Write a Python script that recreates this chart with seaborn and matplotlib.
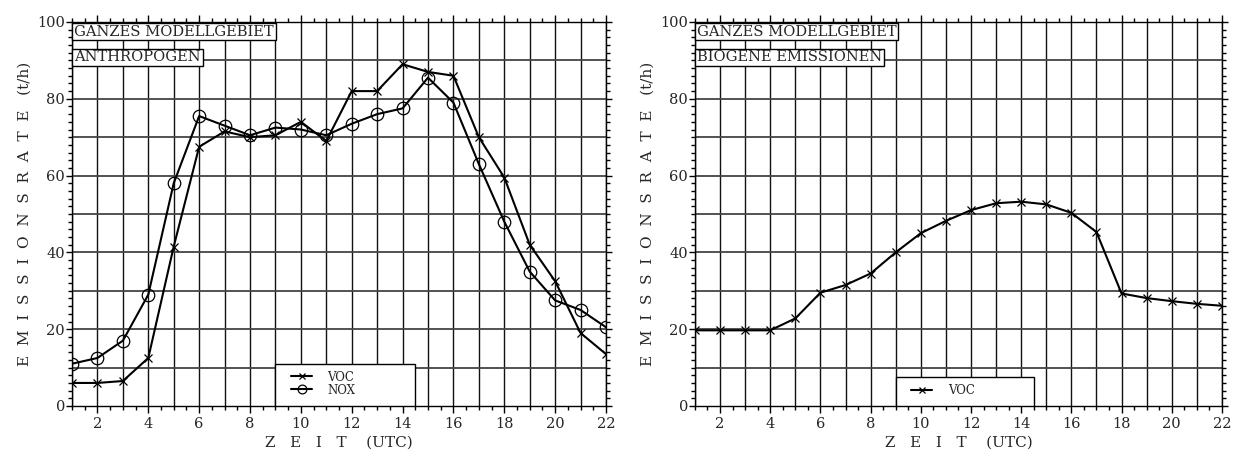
import matplotlib
matplotlib.use("Agg")
import matplotlib.pyplot as plt
import numpy as np
import seaborn as sns
from matplotlib.patches import Rectangle
from matplotlib.ticker import MultipleLocator

# hours (UTC)
hours = list(range(1, 23))

# anthropogenic emissions (t/h)
voc_anthro = [6, 6, 6.5, 12.5, 41.5, 67.5, 71.5, 70, 70.5, 74, 69, 82,
              82, 89, 87, 86, 70, 59.5, 42, 32.5, 19, 13.5]
nox_anthro = [11, 12.5, 17, 29, 58, 75.5, 73, 70.5, 72.5, 72, 70.5, 73.5,
              76, 77.5, 85.5, 79, 63, 48, 35, 27.5, 25, 20.5]

# biogenic emissions (t/h)
voc_bio = [19.7, 19.7, 19.7, 19.7, 22.8, 29.5, 31.5, 34.5, 40, 45, 48.2, 51,
           52.8, 53.2, 52.5, 50.3, 45.3, 29.3, 28.1, 27.3, 26.6, 26.1]

titles_left = ["GANZES MODELLGEBIET", "ANTHROPOGEN"]
titles_right = ["GANZES MODELLGEBIET", "BIOGENE EMISSIONEN"]
xlabel = "Z   E   I   T    (UTC)"
ylabel = "E  M  I  S  S  I  O  N  S  R  A  T  E   (t/h)"

sns.set_style("ticks")
plt.rcParams["font.family"] = ["DejaVu Serif"]

fig = plt.figure(figsize=(12.37, 4.59), dpi=100)
ax1 = fig.add_axes([0.0582, 0.1155, 0.4317, 0.8366])
ax2 = fig.add_axes([0.5618, 0.1155, 0.4260, 0.8366])


def style_axis(ax, titles):
    ax.set_xlim(1, 22)
    ax.set_ylim(0, 100)
    ax.xaxis.set_major_locator(MultipleLocator(2))
    ax.xaxis.set_minor_locator(MultipleLocator(0.5))
    ax.yaxis.set_major_locator(MultipleLocator(20))
    ax.yaxis.set_minor_locator(MultipleLocator(2))
    ax.tick_params(which="both", direction="out", top=True, right=True,
                   labelsize=10.5, color="black")
    ax.tick_params(axis="y", which="major", length=4, width=1, pad=1)
    ax.tick_params(axis="x", which="major", length=5, width=1, pad=3)
    ax.tick_params(which="minor", length=3, width=1)
    # grid: every hour vertically, every 10 horizontally
    for h in range(1, 23):
        ax.axvline(h, color="#111111", lw=1.0, zorder=1)
    for v in range(10, 100, 10):
        ax.axhline(v, color="#444444", lw=1.3, zorder=1)
    for s in ax.spines.values():
        s.set_color("black")
        s.set_linewidth(1.0)
    ax.set_xlabel(xlabel, fontsize=11, labelpad=3)
    ax.set_ylabel(ylabel, fontsize=11, labelpad=4)
    box = dict(boxstyle="square,pad=0.12", fc="white", ec="black", lw=1.0)
    ax.text(0.004, 0.993, titles[0], transform=ax.transAxes, va="top",
            ha="left", fontsize=10.6, bbox=box, zorder=5)
    ax.text(0.004, 0.926, titles[1], transform=ax.transAxes, va="top",
            ha="left", fontsize=10.6, bbox=box, zorder=5)


line_kw = dict(color="black", lw=1.5, markerfacecolor="none",
               markeredgecolor="black", markeredgewidth=0.9, zorder=3)
sns.lineplot(x=hours, y=voc_anthro, marker="x", markersize=6,
             label="VOC", ax=ax1, **line_kw)
sns.lineplot(x=hours, y=nox_anthro, marker="o", markersize=9,
             label="NOX", ax=ax1, **line_kw)
sns.lineplot(x=hours, y=voc_bio, marker="x", markersize=6,
             label="VOC", ax=ax2, **line_kw)

style_axis(ax1, titles_left)
style_axis(ax2, titles_right)

# legend boxes
for ax, top in [(ax1, 11), (ax2, 7.5)]:
    ax.add_patch(Rectangle((9, 0), 5.5, top, fc="white", ec="black",
                           lw=1.0, zorder=4))
    handles, labels = ax.get_legend_handles_labels()
    leg = ax.legend(handles, labels, loc="upper left",
                    bbox_to_anchor=(0.39, top / 100 + 0.01),
                    frameon=False, fontsize=8.5, handlelength=1.8,
                    handletextpad=1.3, labelspacing=0.0, markerscale=0.7)
    leg.set_zorder(6)

fig.savefig("out.png", dpi=100)
